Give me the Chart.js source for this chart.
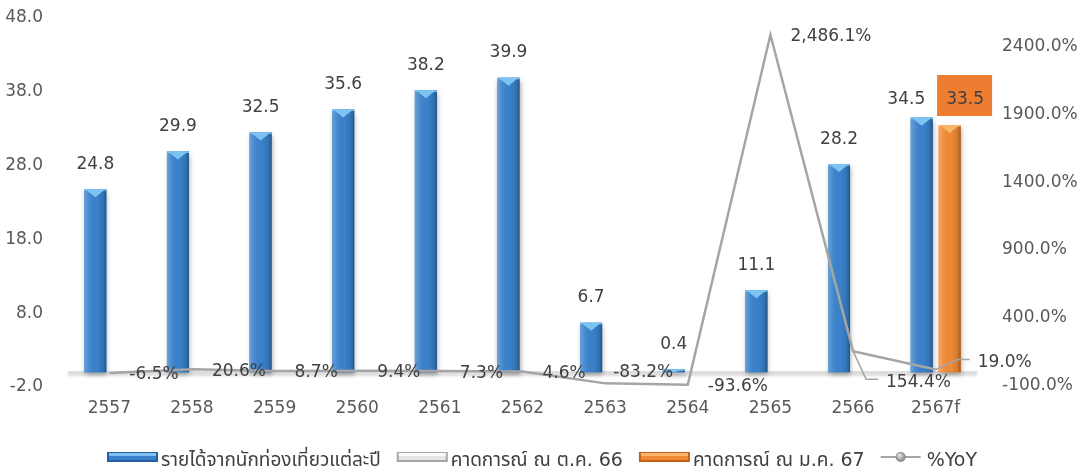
<!DOCTYPE html>
<html>
<head>
<meta charset="utf-8">
<script src="https://cdn.jsdelivr.net/npm/chart.js@4.4.1/dist/chart.umd.min.js"></script>
<style>
    html, body { margin: 0; padding: 0; background: #fff; }
</style>
</head>
<body>
<canvas id="chart" width="1084" height="475"></canvas>
<script>
// Dati del grafico
const categories = ['2557', '2558', '2559', '2560', '2561', '2562', '2563', '2564', '2565', '2566', '2567f'];
const revenue = [24.8, 29.9, 32.5, 35.6, 38.2, 39.9, 6.7, 0.4, 11.1, 28.2, 34.5];
const forecastOct66 = [null, null, null, null, null, null, null, null, null, null, null];
const forecastJan67 = [null, null, null, null, null, null, null, null, null, null, 33.5];
const yoy = [-6.5, 20.6, 8.7, 9.4, 7.3, 4.6, -83.2, -93.6, 2486.1, 154.4, 19.0];
const leftTicks = [-2, 8, 18, 28, 38, 48];
const rightTicks = [-100, 400, 900, 1400, 1900, 2400];

const seriesNames = ['รายได้จากนักท่องเที่ยวแต่ละปี', 'คาดการณ์ ณ ต.ค. 66', 'คาดการณ์ ณ ม.ค. 67', '%YoY'];

const FONT = "'DejaVu Sans', 'Noto Sans Thai', Tahoma, sans-serif";
const TEXT = '#404040';
const AXIS_TEXT = '#595959';
const LINE_GRAY = '#A5A5A5';

// Posizione delle etichette %YoY (scostamento dal punto)
const yoyLabelOffsets = {
    6: { dx: 8, dy: -11 },
    9: { dx: 33, dy: 31, leader: true },
    10: { dx: 42, dy: -7, leader: true }
};

function barBox(el) {
    const p = el.getProps(['x', 'y', 'base', 'width'], true);
    return {
        x: p.x, w: p.width,
        left: p.x - p.width / 2, right: p.x + p.width / 2,
        top: Math.min(p.y, p.base), bottom: Math.max(p.y, p.base)
    };
}

function fmtPct(v) {
    return v.toLocaleString('en-US', { minimumFractionDigits: 1, maximumFractionDigits: 1 }) + '%';
}

// Linea dello zero (asse categorie)
const zeroLine = {
    id: 'zeroLine',
    beforeDatasetsDraw(chart) {
        const { ctx, chartArea, scales } = chart;
        const y0 = scales.y.getPixelForValue(0);
        ctx.save();
        ctx.shadowColor = 'rgba(0,0,0,0.25)';
        ctx.shadowBlur = 3;
        ctx.shadowOffsetY = 2;
        ctx.strokeStyle = '#D9D9D9';
        ctx.lineWidth = 2;
        ctx.beginPath();
        ctx.moveTo(chartArea.left, y0);
        ctx.lineTo(chartArea.right, y0);
        ctx.stroke();
        ctx.restore();
    }
};

// Ombre e effetto 3D sulle barre
const barShade = {
    id: 'barShade',
    beforeDatasetDraw(chart, args) {
        if (args.meta.type !== 'bar') return;
        const ds = chart.data.datasets[args.index];
        const ctx = chart.ctx;
        args.meta.data.forEach((el, i) => {
            if (ds.data[i] == null) return;
            const b = barBox(el);
            ctx.save();
            ctx.shadowColor = 'rgba(0,0,0,0.35)';
            ctx.shadowBlur = 5;
            ctx.shadowOffsetX = 1;
            ctx.shadowOffsetY = 3;
            ctx.fillStyle = ds.backgroundColor;
            ctx.fillRect(b.left, b.top, b.w, b.bottom - b.top);
            ctx.restore();
        });
    },
    afterDatasetDraw(chart, args) {
        if (args.meta.type !== 'bar') return;
        const ds = chart.data.datasets[args.index];
        const ctx = chart.ctx;
        args.meta.data.forEach((el, i) => {
            if (ds.data[i] == null) return;
            const b = barBox(el);
            const h = b.bottom - b.top;
            ctx.save();
            const g = ctx.createLinearGradient(b.left, 0, b.right, 0);
            g.addColorStop(0, 'rgba(255,255,255,0.25)');
            g.addColorStop(0.2, 'rgba(255,255,255,0.08)');
            g.addColorStop(0.55, 'rgba(0,0,0,0)');
            g.addColorStop(0.85, 'rgba(0,0,0,0.12)');
            g.addColorStop(1, 'rgba(0,0,0,0.35)');
            ctx.fillStyle = g;
            ctx.fillRect(b.left, b.top, b.w, h);
            const bh = Math.min(8, h);
            ctx.fillStyle = ds.bevelColor;
            ctx.beginPath();
            ctx.moveTo(b.left + 1, b.top);
            ctx.lineTo(b.right - 1, b.top);
            ctx.lineTo(b.x, b.top + bh);
            ctx.closePath();
            ctx.fill();
            ctx.fillRect(b.left, b.top, b.w, Math.min(1.5, h));
            ctx.restore();
        });
    }
};

// Etichette dei valori
const valueLabels = {
    id: 'valueLabels',
    afterDatasetsDraw(chart) {
        const { ctx, scales } = chart;
        ctx.save();
        ctx.font = '17px ' + FONT;
        ctx.textBaseline = 'middle';

        // Barre
        ctx.textAlign = 'center';
        const barSets = chart.data.datasets
            .map((ds, i) => ({ ds, meta: chart.getDatasetMeta(i) }))
            .filter(o => o.meta.type === 'bar');
        categories.forEach((c, i) => {
            const present = barSets.filter(o => o.ds.data[i] != null);
            if (!present.length) return;
            const centre = scales.x.getPixelForValue(i);
            const boxes = present.map(o => barBox(o.meta.data[i]));
            const lowTop = Math.max(...boxes.map(b => b.top));
            const paired = present.length > 1;
            present.forEach((o, k) => {
                const b = boxes[k];
                const lx = paired ? b.x + (b.x - centre) * 1.1 : b.x;
                const ly = (paired ? lowTop : b.top) - 25;
                if (o.ds.labelBox) {
                    ctx.fillStyle = o.ds.labelBox;
                    ctx.fillRect(lx - 28, ly - 25, 55, 41);
                }
                ctx.fillStyle = TEXT;
                ctx.fillText(o.ds.data[i].toFixed(1), lx, ly);
            });
        });

        // Linea %YoY
        const lineIdx = chart.data.datasets.findIndex(ds => ds.type === 'line');
        const lineMeta = chart.getDatasetMeta(lineIdx);
        ctx.textAlign = 'left';
        lineMeta.data.forEach((pt, i) => {
            const off = yoyLabelOffsets[i] || { dx: 20, dy: 2 };
            const lx = pt.x + off.dx;
            const ly = pt.y + off.dy;
            if (off.leader) {
                ctx.strokeStyle = LINE_GRAY;
                ctx.lineWidth = 1.5;
                ctx.beginPath();
                ctx.moveTo(pt.x, pt.y);
                ctx.lineTo(lx - 20, ly - 3);
                ctx.lineTo(lx - 8, ly - 3);
                ctx.stroke();
            }
            ctx.fillStyle = TEXT;
            ctx.fillText(fmtPct(yoy[i]), lx, ly);
        });
        ctx.restore();
    }
};

// Legenda disegnata a mano
const customLegend = {
    id: 'customLegend',
    afterDraw(chart) {
        const ctx = chart.ctx;
        const cy = 460;
        ctx.save();
        ctx.font = '19px ' + FONT;
        ctx.textBaseline = 'middle';
        ctx.textAlign = 'left';
        const items = chart.data.datasets.map(ds => {
            const isLine = ds.type === 'line';
            const sw = isLine ? 40 : 51;
            const gap = isLine ? 6 : 3;
            const tw = ctx.measureText(ds.label).width;
            return { ds, isLine, sw, gap, tw, w: sw + gap + tw };
        });
        const itemGap = 16;
        const total = items.reduce((s, it) => s + it.w, 0) + itemGap * (items.length - 1);
        let x = (chart.width - total) / 2;
        items.forEach(it => {
            if (it.isLine) {
                ctx.strokeStyle = LINE_GRAY;
                ctx.lineWidth = 2;
                ctx.beginPath();
                ctx.moveTo(x, cy - 3);
                ctx.lineTo(x + it.sw, cy - 3);
                ctx.stroke();
                const rg = ctx.createRadialGradient(x + it.sw / 2 - 1.5, cy - 5, 0.5, x + it.sw / 2, cy - 3, 5);
                rg.addColorStop(0, '#E8E8E8');
                rg.addColorStop(1, '#7F7F7F');
                ctx.fillStyle = rg;
                ctx.beginPath();
                ctx.arc(x + it.sw / 2, cy - 3, 5, 0, Math.PI * 2);
                ctx.fill();
            } else {
                const top = cy - 8, h = 10;
                ctx.fillStyle = it.ds.borderColor;
                ctx.fillRect(x, top, it.sw, h);
                ctx.fillStyle = it.ds.backgroundColor;
                ctx.fillRect(x + 2, top + 1, it.sw - 4, h - 3);
                ctx.fillStyle = it.ds.bevelColor;
                ctx.fillRect(x + 2, top + 1, it.sw - 4, 3);
            }
            ctx.fillStyle = TEXT;
            ctx.fillText(it.ds.label, x + it.sw + it.gap, cy + 1);
            x += it.w + itemGap;
        });
        ctx.restore();
    }
};

// Margini fissi per gli assi verticali
function fixVertical(width) {
    return scale => {
        scale.width = width;
        scale.paddingTop = 18;
        scale.paddingBottom = 0;
    };
}

const ctx = document.getElementById('chart').getContext('2d');
const chart = new Chart(ctx, {
    data: {
        labels: categories,
        datasets: [{
            type: 'bar',
            label: seriesNames[0],
            data: revenue,
            backgroundColor: '#3A82CC',
            borderColor: '#24609F',
            bevelColor: '#7DC3F1',
            stack: 'actual',
            yAxisID: 'y',
            order: 1
        }, {
            type: 'bar',
            label: seriesNames[1],
            data: forecastOct66,
            backgroundColor: '#E6E6E6',
            borderColor: '#A6A6A6',
            bevelColor: '#FAFAFA',
            stack: 'actual',
            yAxisID: 'y',
            order: 1
        }, {
            type: 'bar',
            label: seriesNames[2],
            data: forecastJan67,
            backgroundColor: '#F08A35',
            borderColor: '#C0621C',
            bevelColor: '#FBB56B',
            labelBox: '#ED7D31',
            stack: 'forecast',
            yAxisID: 'y',
            order: 1
        }, {
            type: 'line',
            label: seriesNames[3],
            data: yoy,
            borderColor: LINE_GRAY,
            borderWidth: 2.5,
            pointRadius: 0,
            tension: 0,
            yAxisID: 'y1',
            order: 0
        }]
    },
    options: {
        responsive: false,
        animation: false,
        layout: { padding: { top: 0, bottom: 30, left: 0, right: 0 } },
        datasets: {
            bar: { barPercentage: 0.786, categoryPercentage: 0.678 }
        },
        plugins: {
            legend: { display: false },
            tooltip: { enabled: false }
        },
        scales: {
            x: {
                grid: { display: false, drawTicks: false },
                border: { display: false },
                ticks: { color: AXIS_TEXT, font: { family: FONT, size: 17 }, padding: 11, maxRotation: 0 },
                afterFit: scale => { scale.height = 58; }
            },
            y: {
                position: 'left',
                stacked: true,
                min: -2,
                max: 48,
                grid: { display: false, drawTicks: false },
                border: { display: false },
                afterBuildTicks: scale => { scale.ticks = leftTicks.map(v => ({ value: v })); },
                ticks: {
                    color: AXIS_TEXT,
                    font: { family: FONT, size: 17 },
                    padding: 25,
                    callback: v => v.toFixed(1)
                },
                afterFit: fixVertical(68)
            },
            y1: {
                position: 'right',
                min: -110,
                max: 2610,
                grid: { display: false, drawTicks: false },
                border: { display: false },
                afterBuildTicks: scale => { scale.ticks = rightTicks.map(v => ({ value: v })); },
                ticks: {
                    color: AXIS_TEXT,
                    font: { family: FONT, size: 17 },
                    padding: 25,
                    callback: v => v.toFixed(1) + '%'
                },
                afterFit: fixVertical(107)
            }
        }
    },
    plugins: [zeroLine, barShade, valueLabels, customLegend]
});
</script>
</body>
</html>
